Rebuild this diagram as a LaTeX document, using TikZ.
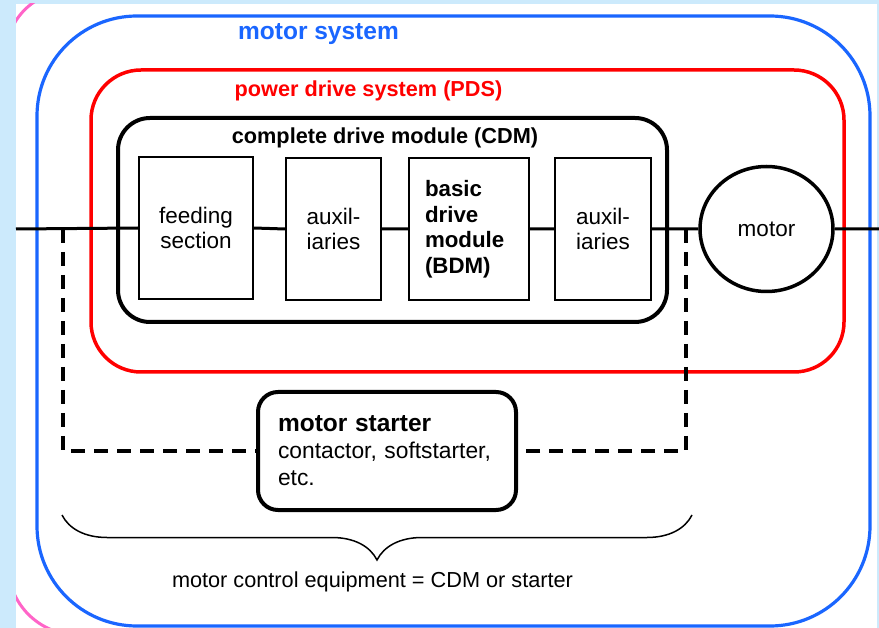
\documentclass[tikz,border=0pt]{standalone}
\usepackage{fontspec}
\setmainfont{Liberation Sans}
\usetikzlibrary{shapes.geometric,decorations.pathreplacing}

\definecolor{bgblue}{RGB}{204,234,252}
\definecolor{sysblue}{RGB}{26,102,255}
\definecolor{pdsred}{RGB}{255,0,0}
\definecolor{edgepink}{RGB}{255,100,200}

\begin{document}
\begin{tikzpicture}[x=1pt,y=-1pt,
            frame box/.style={draw,rectangle,inner sep=0pt},
            sub box/.style={draw,line width=1.5pt,minimum height=142pt,inner sep=0pt,
                align=center,font=\fontsize{22.5}{25.5}\selectfont},
            head/.style={anchor=base,font=\fontsize{21.7}{24}\selectfont\bfseries},
            wire/.style={line width=3pt},
            tap/.style={line width=4.2pt,dash pattern=on 14pt off 9pt}]

    % page background
    \useasboundingbox (0,0) rectangle (879,628);
    \fill[bgblue] (0,0) rectangle (879,628);
    \fill[white] (16,4) rectangle (877,628);
    \begin{scope}
        \clip (16,4) rectangle (45,32);
        \draw[edgepink,line width=3pt] (70,55) circle[radius=64pt];
    \end{scope}
    \begin{scope}
        \clip (16,580) rectangle (55,628);
        \draw[edgepink,line width=3pt] (78,565) circle[radius=70pt];
    \end{scope}

    % nested systems
    \node[frame box,draw=sysblue,line width=3.2pt,rounded corners=100pt,
        minimum width=833pt,minimum height=610pt] (ms) at (453.5,321) {};
    \node[frame box,draw=pdsred,line width=3.5pt,rounded corners=50pt,
        minimum width=753pt,minimum height=302pt] (pds) at (467.5,221) {};
    \node[frame box,line width=4pt,rounded corners=32pt,
        minimum width=549pt,minimum height=204pt] (cdm) at (392.5,220) {};

    \node[head,text=sysblue,font=\fontsize{24.5}{27}\selectfont\bfseries] (mstitle) at (318.5,40) {motor system};
    \node[head,text=pdsred] (pdstitle) at (368.5,97) {power drive system (PDS)};
    \node[head] (cdmtitle) at (385,144) {complete drive module (CDM)};

    % modules
    \node[sub box,minimum width=114pt] (feed) at (196,228) {feeding\\section};
    \node[sub box,minimum width=95pt] (aux1) at (333.5,229) {auxil-\\iaries};
    \node[sub box,minimum width=120pt,text width=88pt,inner xsep=16pt,align=left,
        font=\fontsize{22.3}{25.5}\selectfont\bfseries] (bdm) at (469,229) {basic\\drive\\module\\(BDM)};
    \node[sub box,minimum width=96pt] (aux2) at (603,229) {auxil-\\iaries};
    \node[draw,ellipse,line width=3.5pt,minimum width=133pt,minimum height=125pt,
        inner sep=0pt,font=\fontsize{22.5}{25}\selectfont] (motor) at (766.5,229) {motor};

    \node[draw,rectangle,line width=4pt,rounded corners=20pt,minimum width=258pt,
        minimum height=118pt,text width=218pt,inner sep=20pt,align=left,
        font=\fontsize{22.8}{27}\selectfont] (starter) at (387,451)
        {{\fontsize{24.5}{27}\selectfont\bfseries motor starter}\\contactor, softstarter,\\etc.};

    % supply line
    \coordinate (lineW) at (16,229);
    \coordinate (lineE) at (879,229);
    \draw[wire] (lineW) -- (feed.west)
        (feed.east) -- (aux1.west)
        (aux1.east) -- (bdm.west)
        (bdm.east) -- (aux2.west)
        (aux2.east) -- (motor.west)
        (motor.east) -- (lineE);

    % starter by-pass
    \coordinate (tapW) at (63,229);
    \coordinate (tapE) at (686,229);
    \draw[tap] (tapW) |- (starter.west);
    \draw[tap] (tapE) |- (starter.east);

    % brace
    \coordinate (braceW) at (62,515);
    \coordinate (braceE) at (692,515);
    \draw[line width=1.5pt,decorate,decoration={brace,amplitude=45pt,mirror}] (braceW) -- (braceE);
    \node[anchor=base,font=\fontsize{21.7}{24}\selectfont] (mce) at (372.5,587)
        {motor control equipment = CDM or starter};
\end{tikzpicture}
\end{document}
